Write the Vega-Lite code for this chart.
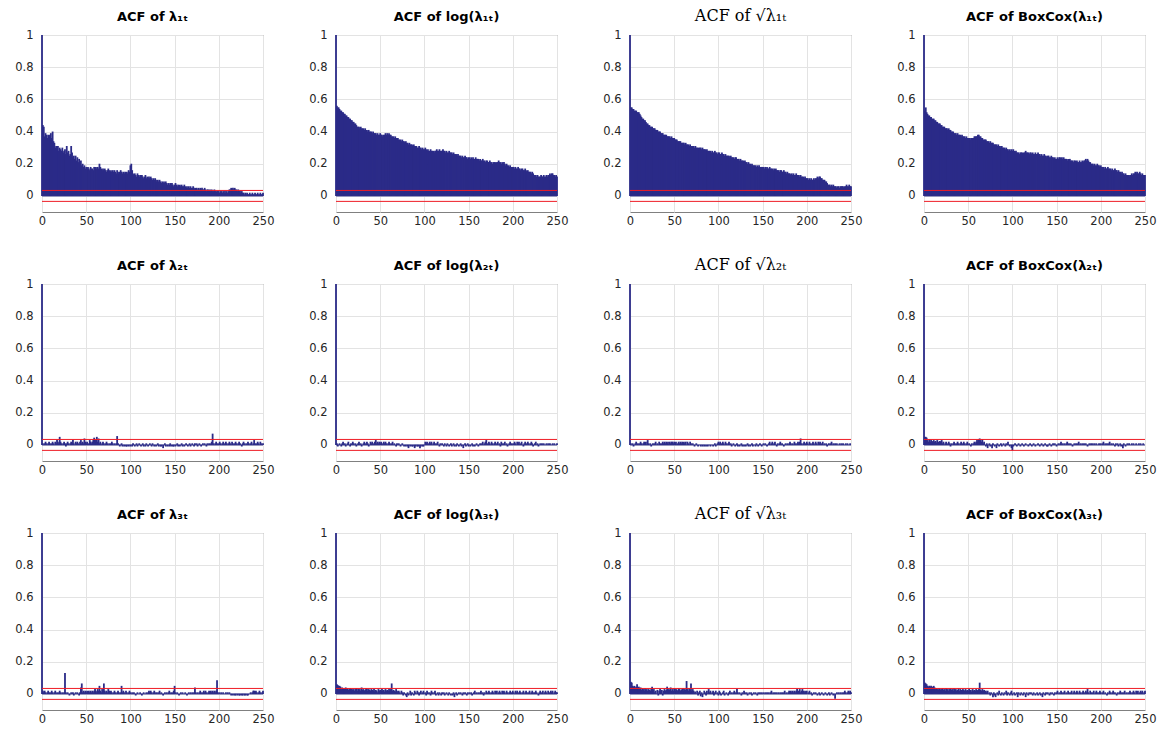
{
"$schema":"https://vega.github.io/schema/vega-lite/v6.json",
"background":"white",
"padding":{"left":14,"top":7,"right":5,"bottom":5},
"datasets":{"bounds":[{"level":0.034},{"level":-0.034}],"zero":[{"level":0}]},
"data":{"values":[
{"lag":0,"a":1,"b":1,"c":1,"d":1,"e":1,"f":1,"g":1,"h":1,"i":1,"j":1,"k":1,"l":1},
{"lag":1,"a":0.44,"b":0.56,"c":0.55,"d":0.53,"e":0.01,"f":0.01,"g":0.01,"h":0.05,"i":0.02,"j":0.06,"k":0.075,"l":0.07},
{"lag":2,"a":0.43,"b":0.55,"c":0.55,"d":0.55,"e":0,"f":-0.01,"g":0,"h":0.05,"i":0.01,"j":0.055,"k":0.07,"l":0.065},
{"lag":3,"a":0.37,"b":0.55,"c":0.54,"d":0.52,"e":0.01,"f":0,"g":0.01,"h":0.045,"i":0.02,"j":0.05,"k":0.05,"l":0.06},
{"lag":4,"a":0.39,"b":0.54,"c":0.54,"d":0.51,"e":0.02,"f":0.01,"g":-0.01,"h":0.03,"i":0.01,"j":0.05,"k":0.045,"l":0.05},
{"lag":5,"a":0.38,"b":0.53,"c":0.53,"d":0.5,"e":0.01,"f":0,"g":0,"h":0.02,"i":0,"j":0.045,"k":0.05,"l":0.045},
{"lag":6,"a":0.36,"b":0.53,"c":0.53,"d":0.5,"e":0,"f":-0.01,"g":0.01,"h":0.035,"i":0.01,"j":0.03,"k":0.04,"l":0.05},
{"lag":7,"a":0.38,"b":0.52,"c":0.53,"d":0.49,"e":0.01,"f":0.01,"g":0.02,"h":0.02,"i":0.02,"j":0.04,"k":0.045,"l":0.045},
{"lag":8,"a":0.37,"b":0.52,"c":0.52,"d":0.49,"e":0.02,"f":0.02,"g":0,"h":0.03,"i":0.01,"j":0.03,"k":0.06,"l":0.05},
{"lag":9,"a":0.38,"b":0.51,"c":0.52,"d":0.48,"e":0.01,"f":0,"g":0.01,"h":0.025,"i":0,"j":0.035,"k":0.04,"l":0.04},
{"lag":10,"a":0.39,"b":0.51,"c":0.52,"d":0.48,"e":0,"f":0.01,"g":0,"h":0.02,"i":0.01,"j":0.03,"k":0.045,"l":0.045},
{"lag":11,"a":0.36,"b":0.5,"c":0.51,"d":0.48,"e":0.01,"f":-0.01,"g":0.01,"h":0.03,"i":0.02,"j":0.04,"k":0.03,"l":0.05},
{"lag":12,"a":0.4,"b":0.5,"c":0.5,"d":0.47,"e":0.02,"f":0,"g":0.02,"h":0.02,"i":0.01,"j":0.03,"k":0.04,"l":0.04},
{"lag":13,"a":0.34,"b":0.49,"c":0.49,"d":0.47,"e":0.01,"f":0.01,"g":0.01,"h":0.025,"i":0,"j":0.035,"k":0.025,"l":0.03},
{"lag":14,"a":0.33,"b":0.49,"c":0.48,"d":0.46,"e":0,"f":0.02,"g":0,"h":0.015,"i":0.01,"j":0.025,"k":0.035,"l":0.035},
{"lag":15,"a":0.3,"b":0.48,"c":0.48,"d":0.46,"e":0.02,"f":0,"g":0.01,"h":0.03,"i":0.02,"j":0.03,"k":0.03,"l":0.03},
{"lag":16,"a":0.31,"b":0.48,"c":0.47,"d":0.45,"e":0.01,"f":-0.01,"g":0.02,"h":0.02,"i":0,"j":0.035,"k":0.02,"l":0.025},
{"lag":17,"a":0.29,"b":0.47,"c":0.47,"d":0.45,"e":0.03,"f":0.01,"g":0.01,"h":0.01,"i":0.01,"j":0.02,"k":0.035,"l":0.035},
{"lag":18,"a":0.31,"b":0.47,"c":0.46,"d":0.45,"e":0.02,"f":0,"g":0.02,"h":0.025,"i":0,"j":0.03,"k":0.025,"l":0.03},
{"lag":19,"a":0.28,"b":0.46,"c":0.45,"d":0.44,"e":0.01,"f":0.02,"g":0,"h":0.02,"i":0.01,"j":0.025,"k":0.03,"l":0.025},
{"lag":20,"a":0.3,"b":0.46,"c":0.45,"d":0.44,"e":0.05,"f":0.01,"g":0.03,"h":0.03,"i":0.02,"j":0.03,"k":0.02,"l":0.03},
{"lag":21,"a":0.29,"b":0.45,"c":0.44,"d":0.43,"e":0.02,"f":0,"g":0.01,"h":0.01,"i":0.01,"j":0.02,"k":0.03,"l":0.035},
{"lag":22,"a":0.28,"b":0.45,"c":0.44,"d":0.43,"e":0.01,"f":0.01,"g":0,"h":0.02,"i":0,"j":0.03,"k":0.025,"l":0.025},
{"lag":23,"a":0.3,"b":0.44,"c":0.43,"d":0.43,"e":0,"f":-0.01,"g":0.01,"h":0,"i":0.01,"j":0.035,"k":0.02,"l":0.03},
{"lag":24,"a":0.27,"b":0.43,"c":0.43,"d":0.42,"e":0.01,"f":0,"g":-0.01,"h":0.01,"i":0,"j":0.02,"k":0.035,"l":0.02},
{"lag":25,"a":0.28,"b":0.43,"c":0.43,"d":0.42,"e":0.02,"f":0.01,"g":0,"h":0.02,"i":0.01,"j":0.03,"k":0.045,"l":0.035},
{"lag":26,"a":0.29,"b":0.43,"c":0.42,"d":0.42,"e":0.01,"f":0.02,"g":0.01,"h":0.01,"i":0.13,"j":0.025,"k":0.02,"l":0.025},
{"lag":27,"a":0.26,"b":0.42,"c":0.42,"d":0.41,"e":-0.01,"f":0,"g":0,"h":0,"i":0.01,"j":0.03,"k":0.03,"l":0.03},
{"lag":28,"a":0.31,"b":0.43,"c":0.42,"d":0.42,"e":0.01,"f":0.01,"g":0.01,"h":0.02,"i":0,"j":0.02,"k":0.01,"l":0.02},
{"lag":29,"a":0.27,"b":0.42,"c":0.41,"d":0.41,"e":0.02,"f":-0.01,"g":0.02,"h":0.01,"i":0.01,"j":0.04,"k":0.02,"l":0.03},
{"lag":30,"a":0.28,"b":0.42,"c":0.41,"d":0.41,"e":0.01,"f":0,"g":0,"h":-0.01,"i":0,"j":0.025,"k":0,"l":0.035},
{"lag":31,"a":0.25,"b":0.42,"c":0.41,"d":0.4,"e":0,"f":0.01,"g":0.01,"h":0.01,"i":-0.01,"j":0.03,"k":0.025,"l":0.025},
{"lag":32,"a":0.26,"b":0.41,"c":0.4,"d":0.4,"e":0.01,"f":0.02,"g":0,"h":0,"i":0,"j":0.02,"k":-0.01,"l":0.03},
{"lag":33,"a":0.31,"b":0.42,"c":0.4,"d":0.4,"e":0.02,"f":0.01,"g":0.02,"h":0.01,"i":0.01,"j":0.025,"k":0.02,"l":0.02},
{"lag":34,"a":0.27,"b":0.41,"c":0.4,"d":0.39,"e":0.01,"f":0,"g":0.01,"h":0.02,"i":0,"j":0.035,"k":0.03,"l":0.035},
{"lag":35,"a":0.24,"b":0.41,"c":0.39,"d":0.39,"e":0.03,"f":0.02,"g":0,"h":0.01,"i":0.01,"j":0.03,"k":0.015,"l":0.025},
{"lag":36,"a":0.25,"b":0.4,"c":0.39,"d":0.39,"e":0.01,"f":0.01,"g":0.01,"h":0,"i":-0.01,"j":0.02,"k":0.025,"l":0.03},
{"lag":37,"a":0.23,"b":0.41,"c":0.39,"d":0.38,"e":0,"f":-0.01,"g":0.02,"h":0.01,"i":0,"j":0.03,"k":-0.01,"l":0.02},
{"lag":38,"a":0.25,"b":0.4,"c":0.38,"d":0.39,"e":0.02,"f":0,"g":0.01,"h":0.02,"i":0.01,"j":0.025,"k":0.02,"l":0.025},
{"lag":39,"a":0.22,"b":0.4,"c":0.38,"d":0.38,"e":0.01,"f":0.02,"g":0.02,"h":0.01,"i":0,"j":0.02,"k":0.03,"l":0.035},
{"lag":40,"a":0.24,"b":0.4,"c":0.38,"d":0.38,"e":0.02,"f":0.01,"g":0.01,"h":0,"i":0.01,"j":0.03,"k":0.02,"l":0.02},
{"lag":41,"a":0.21,"b":0.39,"c":0.38,"d":0.38,"e":0.01,"f":0.02,"g":0.02,"h":0.01,"i":0,"j":0.025,"k":0.025,"l":0.03},
{"lag":42,"a":0.23,"b":0.4,"c":0.37,"d":0.37,"e":0,"f":0,"g":0.01,"h":0.02,"i":-0.01,"j":0.02,"k":0.045,"l":0.025},
{"lag":43,"a":0.2,"b":0.39,"c":0.37,"d":0.38,"e":0.02,"f":0.01,"g":0.02,"h":0,"i":0.01,"j":0.03,"k":0.02,"l":0.02},
{"lag":44,"a":0.22,"b":0.39,"c":0.37,"d":0.37,"e":0.03,"f":0.02,"g":0,"h":0.01,"i":0.04,"j":0.015,"k":0.03,"l":0.03},
{"lag":45,"a":0.19,"b":0.39,"c":0.37,"d":0.37,"e":0.01,"f":0.03,"g":0.02,"h":0.02,"i":0.065,"j":0.025,"k":0.025,"l":0.025},
{"lag":46,"a":0.2,"b":0.38,"c":0.36,"d":0.37,"e":0.02,"f":0.01,"g":0.01,"h":0.01,"i":0.01,"j":0.02,"k":0.04,"l":0.02},
{"lag":47,"a":0.18,"b":0.39,"c":0.37,"d":0.36,"e":0.01,"f":0.02,"g":0.02,"h":0,"i":0.02,"j":0.01,"k":0.02,"l":0.03},
{"lag":48,"a":0.19,"b":0.38,"c":0.36,"d":0.37,"e":0.04,"f":0.01,"g":0.02,"h":0.01,"i":0.01,"j":0.03,"k":0.03,"l":0.02},
{"lag":49,"a":0.17,"b":0.38,"c":0.36,"d":0.36,"e":0.02,"f":0.02,"g":0.01,"h":0.02,"i":0.02,"j":0.02,"k":0.02,"l":0.025},
{"lag":50,"a":0.18,"b":0.39,"c":0.36,"d":0.36,"e":0.01,"f":0.01,"g":0.02,"h":0,"i":0.01,"j":0.025,"k":0.035,"l":0.02},
{"lag":51,"a":0.17,"b":0.38,"c":0.35,"d":0.36,"e":0.02,"f":0.02,"g":0.01,"h":0.01,"i":0.02,"j":0.02,"k":0.02,"l":0.03},
{"lag":52,"a":0.18,"b":0.38,"c":0.35,"d":0.36,"e":0,"f":0.01,"g":0.02,"h":0,"i":0.01,"j":0.03,"k":0.03,"l":0.02},
{"lag":53,"a":0.17,"b":0.37,"c":0.35,"d":0.35,"e":0.01,"f":0,"g":0,"h":-0.01,"i":0.02,"j":0.02,"k":0.025,"l":0.025},
{"lag":54,"a":0.16,"b":0.38,"c":0.34,"d":0.36,"e":0.03,"f":0.02,"g":0.01,"h":0.01,"i":0.01,"j":0.025,"k":0.02,"l":0.015},
{"lag":55,"a":0.18,"b":0.38,"c":0.34,"d":0.36,"e":0.02,"f":0.01,"g":0.02,"h":0,"i":0.02,"j":0.015,"k":0.035,"l":0.03},
{"lag":56,"a":0.17,"b":0.39,"c":0.34,"d":0.36,"e":0.01,"f":0.02,"g":0.01,"h":0.01,"i":0.01,"j":0.03,"k":0.03,"l":0.02},
{"lag":57,"a":0.17,"b":0.38,"c":0.34,"d":0.37,"e":0.02,"f":0.01,"g":0.02,"h":0.02,"i":0.02,"j":0.02,"k":0.02,"l":0.025},
{"lag":58,"a":0.16,"b":0.39,"c":0.33,"d":0.37,"e":0.03,"f":0,"g":0.01,"h":0.01,"i":0.01,"j":0.025,"k":0.025,"l":0.02},
{"lag":59,"a":0.18,"b":0.38,"c":0.33,"d":0.37,"e":0.045,"f":0.01,"g":0.02,"h":0.02,"i":0.02,"j":0.02,"k":0.03,"l":0.03},
{"lag":60,"a":0.17,"b":0.39,"c":0.33,"d":0.37,"e":0.02,"f":0.02,"g":0.01,"h":0.03,"i":0.03,"j":0.03,"k":0.035,"l":0.025},
{"lag":61,"a":0.18,"b":0.38,"c":0.33,"d":0.38,"e":0.03,"f":0.01,"g":0.02,"h":0.02,"i":0.02,"j":0.02,"k":0.02,"l":0.02},
{"lag":62,"a":0.17,"b":0.38,"c":0.32,"d":0.38,"e":0.05,"f":0,"g":0.01,"h":0.035,"i":0.01,"j":0.03,"k":0.03,"l":0.03},
{"lag":63,"a":0.18,"b":0.37,"c":0.33,"d":0.37,"e":0.02,"f":0.01,"g":0.02,"h":0.04,"i":0.03,"j":0.065,"k":0.025,"l":0.07},
{"lag":64,"a":0.17,"b":0.37,"c":0.32,"d":0.37,"e":0.04,"f":0.02,"g":0,"h":0.03,"i":0.02,"j":0.02,"k":0.08,"l":0.025},
{"lag":65,"a":0.2,"b":0.37,"c":0.32,"d":0.36,"e":0.01,"f":0,"g":0.02,"h":0.02,"i":0.05,"j":0.025,"k":0.03,"l":0.02},
{"lag":66,"a":0.18,"b":0.36,"c":0.32,"d":0.36,"e":0.02,"f":0.01,"g":0.01,"h":0.035,"i":0.02,"j":0.02,"k":0.02,"l":0.03},
{"lag":67,"a":0.17,"b":0.37,"c":0.31,"d":0.35,"e":0,"f":0,"g":0,"h":0.01,"i":0.01,"j":0.015,"k":0.035,"l":0.02},
{"lag":68,"a":0.16,"b":0.36,"c":0.32,"d":0.35,"e":0.01,"f":-0.01,"g":0.02,"h":0.02,"i":0.03,"j":0.03,"k":0.025,"l":0.025},
{"lag":69,"a":0.17,"b":0.36,"c":0.31,"d":0.35,"e":0.02,"f":0.01,"g":0.01,"h":0,"i":0.02,"j":0.02,"k":0.065,"l":0.015},
{"lag":70,"a":0.16,"b":0.36,"c":0.31,"d":0.35,"e":0.01,"f":0,"g":0,"h":-0.01,"i":0.065,"j":0.01,"k":0.02,"l":0.02},
{"lag":71,"a":0.17,"b":0.35,"c":0.31,"d":0.34,"e":0,"f":0.01,"g":0.01,"h":0.01,"i":0.02,"j":0.02,"k":0.03,"l":0.01},
{"lag":72,"a":0.16,"b":0.35,"c":0.31,"d":0.34,"e":0.01,"f":0,"g":0,"h":-0.02,"i":0.01,"j":0.01,"k":0.02,"l":0.02},
{"lag":73,"a":0.15,"b":0.35,"c":0.3,"d":0.34,"e":0.02,"f":-0.01,"g":-0.01,"h":0,"i":0.02,"j":0,"k":0.01,"l":0},
{"lag":74,"a":0.16,"b":0.34,"c":0.31,"d":0.33,"e":0.01,"f":0,"g":0,"h":0.01,"i":0.01,"j":0.02,"k":0.015,"l":0.01},
{"lag":75,"a":0.17,"b":0.35,"c":0.3,"d":0.34,"e":0,"f":0.01,"g":0.01,"h":-0.01,"i":0.03,"j":0.01,"k":0,"l":-0.01},
{"lag":76,"a":0.16,"b":0.34,"c":0.3,"d":0.33,"e":0.01,"f":0,"g":0,"h":0,"i":0.02,"j":-0.01,"k":0.02,"l":0.01},
{"lag":77,"a":0.15,"b":0.34,"c":0.3,"d":0.33,"e":0,"f":-0.01,"g":-0.01,"h":-0.02,"i":0.01,"j":0.01,"k":-0.01,"l":0},
{"lag":78,"a":0.16,"b":0.33,"c":0.3,"d":0.33,"e":0.01,"f":0,"g":0,"h":0.01,"i":0.02,"j":0,"k":0.01,"l":-0.02},
{"lag":79,"a":0.15,"b":0.34,"c":0.3,"d":0.32,"e":0.02,"f":-0.01,"g":0,"h":0,"i":0.01,"j":-0.01,"k":0.02,"l":0.01},
{"lag":80,"a":0.16,"b":0.33,"c":0.3,"d":0.32,"e":0.01,"f":0,"g":-0.01,"h":-0.01,"i":0,"j":-0.02,"k":-0.015,"l":-0.01},
{"lag":81,"a":0.15,"b":0.33,"c":0.29,"d":0.32,"e":0,"f":-0.01,"g":0,"h":0,"i":0.01,"j":0.01,"k":0.01,"l":-0.02},
{"lag":82,"a":0.16,"b":0.32,"c":0.3,"d":0.32,"e":0.01,"f":-0.02,"g":-0.01,"h":-0.02,"i":0.02,"j":-0.01,"k":-0.02,"l":0},
{"lag":83,"a":0.15,"b":0.33,"c":0.29,"d":0.31,"e":0,"f":0,"g":0,"h":0.01,"i":0.01,"j":0,"k":0,"l":0.01},
{"lag":84,"a":0.14,"b":0.32,"c":0.29,"d":0.32,"e":0.01,"f":-0.01,"g":-0.01,"h":0,"i":0,"j":0.02,"k":0.02,"l":-0.01},
{"lag":85,"a":0.16,"b":0.32,"c":0.29,"d":0.31,"e":0.055,"f":0,"g":0,"h":-0.01,"i":0.01,"j":-0.01,"k":0.01,"l":0.02},
{"lag":86,"a":0.15,"b":0.32,"c":0.28,"d":0.31,"e":0.01,"f":-0.01,"g":-0.01,"h":0,"i":0.02,"j":0.01,"k":-0.01,"l":0},
{"lag":87,"a":0.14,"b":0.31,"c":0.29,"d":0.3,"e":0,"f":-0.01,"g":0,"h":0.01,"i":0.01,"j":0,"k":0.02,"l":-0.01},
{"lag":88,"a":0.15,"b":0.32,"c":0.28,"d":0.31,"e":-0.01,"f":0,"g":-0.01,"h":-0.01,"i":0,"j":-0.01,"k":0,"l":0.01},
{"lag":89,"a":0.16,"b":0.31,"c":0.28,"d":0.3,"e":0,"f":-0.02,"g":0,"h":0,"i":0.01,"j":0.02,"k":0.03,"l":0},
{"lag":90,"a":0.15,"b":0.31,"c":0.28,"d":0.3,"e":0.01,"f":-0.01,"g":0,"h":0.01,"i":0.05,"j":0.01,"k":0.01,"l":-0.01},
{"lag":91,"a":0.14,"b":0.31,"c":0.28,"d":0.3,"e":-0.01,"f":0,"g":-0.01,"h":0,"i":0.01,"j":0,"k":0.02,"l":0.01},
{"lag":92,"a":0.15,"b":0.3,"c":0.27,"d":0.29,"e":0,"f":-0.01,"g":0,"h":-0.01,"i":0.02,"j":0.02,"k":0,"l":0},
{"lag":93,"a":0.14,"b":0.3,"c":0.28,"d":0.3,"e":-0.01,"f":-0.01,"g":0,"h":0.01,"i":0.01,"j":0.01,"k":0.01,"l":0.02},
{"lag":94,"a":0.15,"b":0.31,"c":0.27,"d":0.29,"e":0,"f":0,"g":-0.01,"h":0,"i":0,"j":-0.01,"k":0.02,"l":-0.01},
{"lag":95,"a":0.14,"b":0.3,"c":0.27,"d":0.29,"e":-0.01,"f":-0.02,"g":0,"h":0.02,"i":0.02,"j":0.01,"k":-0.01,"l":0.01},
{"lag":96,"a":0.15,"b":0.3,"c":0.28,"d":0.28,"e":-0.01,"f":-0.01,"g":0.01,"h":0,"i":0.01,"j":0.02,"k":0.01,"l":0},
{"lag":97,"a":0.14,"b":0.29,"c":0.27,"d":0.29,"e":0,"f":0,"g":-0.01,"h":-0.01,"i":0,"j":0,"k":0.02,"l":-0.01},
{"lag":98,"a":0.16,"b":0.3,"c":0.27,"d":0.28,"e":-0.01,"f":-0.01,"g":0,"h":0,"i":0.01,"j":0.01,"k":0,"l":0.01},
{"lag":99,"a":0.15,"b":0.29,"c":0.26,"d":0.29,"e":0,"f":-0.01,"g":0.01,"h":-0.02,"i":0.02,"j":0.02,"k":0.01,"l":0.02},
{"lag":100,"a":0.19,"b":0.29,"c":0.27,"d":0.28,"e":-0.01,"f":0,"g":0.02,"h":-0.035,"i":0.01,"j":0,"k":-0.01,"l":-0.01},
{"lag":101,"a":0.2,"b":0.3,"c":0.27,"d":0.29,"e":0,"f":0.02,"g":0.01,"h":-0.01,"i":0,"j":0.01,"k":0.02,"l":0},
{"lag":102,"a":0.16,"b":0.29,"c":0.26,"d":0.28,"e":-0.01,"f":0.01,"g":0.02,"h":0,"i":0.01,"j":-0.01,"k":0.01,"l":0.01},
{"lag":103,"a":0.14,"b":0.28,"c":0.26,"d":0.27,"e":0.01,"f":0.02,"g":0,"h":0.01,"i":0,"j":0.02,"k":-0.01,"l":-0.01},
{"lag":104,"a":0.13,"b":0.29,"c":0.27,"d":0.28,"e":0,"f":0,"g":0.01,"h":0,"i":0.01,"j":0.01,"k":0,"l":0},
{"lag":105,"a":0.14,"b":0.28,"c":0.26,"d":0.27,"e":-0.01,"f":0.01,"g":0.02,"h":-0.01,"i":0,"j":0,"k":0.01,"l":0.01},
{"lag":106,"a":0.13,"b":0.28,"c":0.26,"d":0.27,"e":0,"f":0.02,"g":0.01,"h":0,"i":-0.01,"j":0.01,"k":0.02,"l":-0.02},
{"lag":107,"a":0.12,"b":0.29,"c":0.25,"d":0.27,"e":0.01,"f":0.01,"g":0,"h":0.01,"i":0,"j":-0.01,"k":-0.01,"l":0.01},
{"lag":108,"a":0.14,"b":0.28,"c":0.26,"d":0.26,"e":-0.01,"f":0.02,"g":0.02,"h":0,"i":0.01,"j":0.02,"k":0,"l":0},
{"lag":109,"a":0.13,"b":0.28,"c":0.25,"d":0.27,"e":0,"f":0,"g":0.01,"h":-0.01,"i":0,"j":0.01,"k":0.01,"l":-0.01},
{"lag":110,"a":0.12,"b":0.28,"c":0.25,"d":0.27,"e":0.01,"f":0.01,"g":0,"h":0,"i":0,"j":0,"k":0,"l":0.01},
{"lag":111,"a":0.13,"b":0.27,"c":0.25,"d":0.27,"e":0,"f":0.02,"g":0.01,"h":0.01,"i":0.01,"j":0.01,"k":-0.01,"l":0},
{"lag":112,"a":0.12,"b":0.28,"c":0.25,"d":0.26,"e":-0.01,"f":0.01,"g":0.02,"h":0,"i":0,"j":0.02,"k":0.01,"l":-0.01},
{"lag":113,"a":0.13,"b":0.28,"c":0.24,"d":0.27,"e":0,"f":0,"g":0,"h":-0.01,"i":-0.01,"j":-0.01,"k":0.02,"l":0.01},
{"lag":114,"a":0.12,"b":0.29,"c":0.25,"d":0.27,"e":0.01,"f":0.01,"g":0.01,"h":0,"i":0,"j":0,"k":0,"l":0},
{"lag":115,"a":0.11,"b":0.28,"c":0.24,"d":0.28,"e":-0.01,"f":0.02,"g":-0.01,"h":0.01,"i":0.01,"j":0.01,"k":0.01,"l":-0.02},
{"lag":116,"a":0.12,"b":0.28,"c":0.24,"d":0.27,"e":0,"f":0,"g":0,"h":0,"i":0,"j":-0.01,"k":0,"l":0.01},
{"lag":117,"a":0.13,"b":0.29,"c":0.24,"d":0.27,"e":-0.01,"f":-0.01,"g":0.01,"h":0,"i":0,"j":0.01,"k":0.01,"l":0},
{"lag":118,"a":0.11,"b":0.28,"c":0.23,"d":0.27,"e":0.01,"f":0.01,"g":0,"h":-0.01,"i":0.01,"j":0,"k":0.02,"l":-0.01},
{"lag":119,"a":0.12,"b":0.28,"c":0.24,"d":0.26,"e":0,"f":0,"g":-0.01,"h":0,"i":0,"j":-0.01,"k":0.01,"l":0.01},
{"lag":120,"a":0.11,"b":0.28,"c":0.24,"d":0.27,"e":-0.01,"f":0.01,"g":0,"h":0.01,"i":0.01,"j":0.01,"k":0,"l":0},
{"lag":121,"a":0.12,"b":0.29,"c":0.23,"d":0.27,"e":0,"f":0,"g":0.01,"h":0,"i":0.02,"j":0,"k":0.03,"l":0.01},
{"lag":122,"a":0.11,"b":0.28,"c":0.23,"d":0.26,"e":0.01,"f":-0.01,"g":-0.01,"h":-0.01,"i":0.01,"j":0.01,"k":0.01,"l":0},
{"lag":123,"a":0.12,"b":0.28,"c":0.23,"d":0.27,"e":0,"f":0.01,"g":0,"h":0,"i":0.02,"j":-0.01,"k":0,"l":-0.01},
{"lag":124,"a":0.11,"b":0.27,"c":0.22,"d":0.26,"e":-0.01,"f":0,"g":-0.01,"h":0.01,"i":0.01,"j":0,"k":0.01,"l":0.01},
{"lag":125,"a":0.1,"b":0.28,"c":0.23,"d":0.26,"e":0.01,"f":-0.01,"g":0,"h":0,"i":0,"j":0.01,"k":0,"l":0},
{"lag":126,"a":0.11,"b":0.27,"c":0.22,"d":0.27,"e":0,"f":0.01,"g":0.01,"h":-0.01,"i":0.01,"j":0,"k":-0.01,"l":-0.01},
{"lag":127,"a":0.1,"b":0.27,"c":0.22,"d":0.26,"e":-0.01,"f":0,"g":-0.01,"h":0,"i":0.02,"j":-0.01,"k":0.01,"l":0},
{"lag":128,"a":0.11,"b":0.28,"c":0.22,"d":0.26,"e":0,"f":-0.01,"g":0,"h":0,"i":0.01,"j":0.01,"k":0,"l":0.01},
{"lag":129,"a":0.1,"b":0.27,"c":0.21,"d":0.27,"e":-0.01,"f":0,"g":-0.01,"h":0.01,"i":0,"j":0,"k":0.02,"l":-0.01},
{"lag":130,"a":0.09,"b":0.27,"c":0.22,"d":0.26,"e":0,"f":0.01,"g":0,"h":0,"i":0.01,"j":-0.01,"k":0.01,"l":0},
{"lag":131,"a":0.1,"b":0.27,"c":0.21,"d":0.26,"e":0.01,"f":-0.01,"g":-0.01,"h":-0.01,"i":0,"j":0,"k":0,"l":0.01},
{"lag":132,"a":0.09,"b":0.26,"c":0.21,"d":0.25,"e":-0.01,"f":0,"g":0,"h":0,"i":0.01,"j":-0.01,"k":0.01,"l":-0.01},
{"lag":133,"a":0.1,"b":0.27,"c":0.2,"d":0.26,"e":0,"f":0.01,"g":0.01,"h":0.01,"i":0.02,"j":0.01,"k":-0.01,"l":0},
{"lag":134,"a":0.09,"b":0.26,"c":0.21,"d":0.25,"e":-0.01,"f":-0.01,"g":-0.01,"h":0,"i":0,"j":-0.02,"k":0,"l":-0.02},
{"lag":135,"a":0.08,"b":0.26,"c":0.2,"d":0.25,"e":-0.01,"f":0,"g":0,"h":-0.01,"i":0.01,"j":0,"k":0.01,"l":0.01},
{"lag":136,"a":0.09,"b":0.26,"c":0.2,"d":0.26,"e":0,"f":-0.01,"g":-0.01,"h":0,"i":0,"j":0.01,"k":0,"l":0},
{"lag":137,"a":0.08,"b":0.25,"c":0.19,"d":0.25,"e":-0.02,"f":0.01,"g":0,"h":0.01,"i":-0.01,"j":-0.01,"k":0.01,"l":-0.01},
{"lag":138,"a":0.09,"b":0.26,"c":0.2,"d":0.25,"e":0,"f":0,"g":0.01,"h":0,"i":0,"j":0,"k":-0.01,"l":0.01},
{"lag":139,"a":0.08,"b":0.25,"c":0.19,"d":0.24,"e":0.01,"f":-0.01,"g":-0.01,"h":-0.01,"i":0.01,"j":0.01,"k":0,"l":0},
{"lag":140,"a":0.09,"b":0.25,"c":0.19,"d":0.25,"e":-0.01,"f":0,"g":0,"h":-0.01,"i":0,"j":0,"k":0.01,"l":0.01},
{"lag":141,"a":0.08,"b":0.25,"c":0.19,"d":0.25,"e":0,"f":0.01,"g":0,"h":0,"i":0.01,"j":0.01,"k":0,"l":0},
{"lag":142,"a":0.07,"b":0.24,"c":0.19,"d":0.24,"e":-0.01,"f":-0.01,"g":-0.01,"h":0.01,"i":0,"j":0,"k":0.01,"l":-0.01},
{"lag":143,"a":0.08,"b":0.25,"c":0.18,"d":0.24,"e":0,"f":0,"g":0.01,"h":0,"i":0.01,"j":-0.01,"k":0,"l":0.01},
{"lag":144,"a":0.07,"b":0.24,"c":0.19,"d":0.25,"e":-0.01,"f":-0.02,"g":0,"h":-0.01,"i":0.02,"j":0.01,"k":-0.01,"l":0},
{"lag":145,"a":0.08,"b":0.24,"c":0.18,"d":0.24,"e":0.01,"f":0,"g":-0.01,"h":0,"i":0,"j":0,"k":0.01,"l":0.01},
{"lag":146,"a":0.07,"b":0.25,"c":0.19,"d":0.24,"e":-0.01,"f":0.01,"g":0,"h":0.01,"i":0.01,"j":0.01,"k":0,"l":0},
{"lag":147,"a":0.08,"b":0.24,"c":0.18,"d":0.23,"e":0,"f":-0.01,"g":0.01,"h":0,"i":0,"j":0,"k":0.01,"l":-0.01},
{"lag":148,"a":0.07,"b":0.24,"c":0.18,"d":0.24,"e":-0.01,"f":0,"g":0,"h":0.01,"i":0.01,"j":-0.01,"k":0,"l":0.01},
{"lag":149,"a":0.06,"b":0.23,"c":0.18,"d":0.23,"e":-0.01,"f":0.01,"g":-0.01,"h":0,"i":0.02,"j":0.01,"k":0.01,"l":0},
{"lag":150,"a":0.07,"b":0.24,"c":0.18,"d":0.23,"e":0,"f":-0.01,"g":0,"h":-0.01,"i":0.05,"j":0,"k":0,"l":0.01},
{"lag":151,"a":0.08,"b":0.24,"c":0.18,"d":0.24,"e":-0.01,"f":0,"g":0.01,"h":0,"i":0.01,"j":0.01,"k":0.01,"l":0.02},
{"lag":152,"a":0.07,"b":0.23,"c":0.17,"d":0.23,"e":0,"f":-0.01,"g":0,"h":0.01,"i":0,"j":0,"k":0,"l":0},
{"lag":153,"a":0.06,"b":0.24,"c":0.18,"d":0.24,"e":0.01,"f":0,"g":0.01,"h":0,"i":0.01,"j":0.01,"k":0.01,"l":0.01},
{"lag":154,"a":0.07,"b":0.23,"c":0.17,"d":0.24,"e":-0.01,"f":0.01,"g":0,"h":0.01,"i":0,"j":-0.01,"k":0,"l":0},
{"lag":155,"a":0.06,"b":0.24,"c":0.18,"d":0.23,"e":0,"f":-0.01,"g":-0.01,"h":0.02,"i":-0.01,"j":0,"k":0.01,"l":0.02},
{"lag":156,"a":0.07,"b":0.23,"c":0.17,"d":0.24,"e":-0.01,"f":0,"g":0,"h":0,"i":0,"j":0.01,"k":0,"l":0.01},
{"lag":157,"a":0.06,"b":0.23,"c":0.17,"d":0.23,"e":0,"f":-0.01,"g":0.01,"h":0.01,"i":0.01,"j":0.02,"k":0.01,"l":0},
{"lag":158,"a":0.07,"b":0.24,"c":0.18,"d":0.24,"e":0.01,"f":0,"g":0.02,"h":0,"i":0,"j":0,"k":0,"l":0.01},
{"lag":159,"a":0.06,"b":0.23,"c":0.17,"d":0.23,"e":-0.01,"f":0.01,"g":0,"h":0.01,"i":0.01,"j":0.01,"k":0.01,"l":0.02},
{"lag":160,"a":0.06,"b":0.23,"c":0.17,"d":0.23,"e":0,"f":0,"g":0.01,"h":0,"i":0,"j":0,"k":0.02,"l":0},
{"lag":161,"a":0.07,"b":0.23,"c":0.17,"d":0.23,"e":-0.01,"f":-0.01,"g":0.02,"h":0.01,"i":0,"j":0.01,"k":0,"l":0.01},
{"lag":162,"a":0.06,"b":0.22,"c":0.16,"d":0.22,"e":0,"f":0,"g":0,"h":0.02,"i":0.01,"j":0,"k":0.01,"l":0},
{"lag":163,"a":0.05,"b":0.23,"c":0.17,"d":0.23,"e":0.01,"f":0.01,"g":0.01,"h":0,"i":0,"j":0.01,"k":0,"l":0.02},
{"lag":164,"a":0.06,"b":0.22,"c":0.16,"d":0.22,"e":0,"f":0,"g":0.02,"h":0.01,"i":-0.01,"j":0.02,"k":0.01,"l":0.01},
{"lag":165,"a":0.05,"b":0.22,"c":0.17,"d":0.23,"e":-0.01,"f":0.01,"g":0,"h":0,"i":0,"j":0,"k":0,"l":0},
{"lag":166,"a":0.06,"b":0.23,"c":0.16,"d":0.22,"e":0,"f":0.02,"g":-0.01,"h":0.01,"i":0.01,"j":0.01,"k":0.01,"l":0.01},
{"lag":167,"a":0.05,"b":0.22,"c":0.16,"d":0.22,"e":0.01,"f":0,"g":0.01,"h":0,"i":0,"j":-0.01,"k":0,"l":0.02},
{"lag":168,"a":0.06,"b":0.22,"c":0.16,"d":0.22,"e":-0.01,"f":0.01,"g":0,"h":-0.01,"i":0.01,"j":0.01,"k":0.01,"l":0},
{"lag":169,"a":0.05,"b":0.21,"c":0.15,"d":0.21,"e":0,"f":0.02,"g":0.01,"h":0,"i":0,"j":0,"k":0,"l":0.01},
{"lag":170,"a":0.05,"b":0.22,"c":0.16,"d":0.22,"e":0.01,"f":0.03,"g":0.02,"h":0.01,"i":0.01,"j":0.02,"k":0.01,"l":0.02},
{"lag":171,"a":0.06,"b":0.22,"c":0.16,"d":0.22,"e":0,"f":0.01,"g":0,"h":0,"i":0,"j":0.01,"k":0,"l":0},
{"lag":172,"a":0.05,"b":0.21,"c":0.15,"d":0.21,"e":-0.01,"f":0,"g":0.01,"h":0.01,"i":0.01,"j":0,"k":0.01,"l":0.01},
{"lag":173,"a":0.04,"b":0.21,"c":0.15,"d":0.22,"e":0.01,"f":0.02,"g":0,"h":0,"i":0.04,"j":0.02,"k":0,"l":0.02},
{"lag":174,"a":0.05,"b":0.22,"c":0.16,"d":0.21,"e":0,"f":0.01,"g":-0.01,"h":0.01,"i":0.01,"j":0.01,"k":0.01,"l":0.01},
{"lag":175,"a":0.05,"b":0.21,"c":0.15,"d":0.21,"e":0.01,"f":0,"g":0,"h":0.02,"i":0,"j":0,"k":0.02,"l":0},
{"lag":176,"a":0.04,"b":0.21,"c":0.15,"d":0.22,"e":-0.01,"f":0.02,"g":0.01,"h":0,"i":0.01,"j":0.01,"k":0,"l":0.02},
{"lag":177,"a":0.05,"b":0.2,"c":0.14,"d":0.21,"e":0,"f":0.01,"g":0,"h":0.01,"i":0,"j":0.02,"k":0.01,"l":0.01},
{"lag":178,"a":0.04,"b":0.21,"c":0.15,"d":0.21,"e":0.01,"f":0,"g":0.01,"h":0,"i":0.01,"j":0.01,"k":0,"l":0},
{"lag":179,"a":0.05,"b":0.21,"c":0.14,"d":0.22,"e":0,"f":0.01,"g":0,"h":0.01,"i":0.02,"j":0,"k":0.01,"l":0.01},
{"lag":180,"a":0.04,"b":0.21,"c":0.14,"d":0.21,"e":-0.01,"f":0.02,"g":0.01,"h":0,"i":0.01,"j":0.02,"k":0.02,"l":0.02},
{"lag":181,"a":0.05,"b":0.2,"c":0.14,"d":0.22,"e":0,"f":0,"g":0.02,"h":0.01,"i":0,"j":0.01,"k":0.01,"l":0.01},
{"lag":182,"a":0.04,"b":0.21,"c":0.13,"d":0.22,"e":0.01,"f":0.01,"g":0.01,"h":0,"i":0.01,"j":0.02,"k":0.02,"l":0},
{"lag":183,"a":0.04,"b":0.21,"c":0.14,"d":0.23,"e":0,"f":0.02,"g":0,"h":0.01,"i":0.02,"j":0,"k":0.01,"l":0.02},
{"lag":184,"a":0.05,"b":0.22,"c":0.13,"d":0.22,"e":0.01,"f":0,"g":0.01,"h":0,"i":0.01,"j":0.01,"k":0.02,"l":0.01},
{"lag":185,"a":0.04,"b":0.21,"c":0.14,"d":0.23,"e":0,"f":0.01,"g":0,"h":-0.01,"i":0.02,"j":0.02,"k":0.01,"l":0.03},
{"lag":186,"a":0.03,"b":0.21,"c":0.13,"d":0.22,"e":-0.01,"f":-0.01,"g":0.02,"h":0,"i":0.01,"j":0.01,"k":0.02,"l":0.01},
{"lag":187,"a":0.04,"b":0.2,"c":0.13,"d":0.21,"e":0.01,"f":0.02,"g":0.01,"h":0.01,"i":0,"j":0,"k":0.01,"l":0},
{"lag":188,"a":0.04,"b":0.21,"c":0.14,"d":0.21,"e":0,"f":0.01,"g":0,"h":0,"i":0.01,"j":0.02,"k":0.02,"l":0.02},
{"lag":189,"a":0.03,"b":0.2,"c":0.13,"d":0.2,"e":0.01,"f":0,"g":0.01,"h":0.01,"i":0.02,"j":0.01,"k":0.03,"l":0.01},
{"lag":190,"a":0.04,"b":0.21,"c":0.13,"d":0.2,"e":0,"f":0.01,"g":0.02,"h":0,"i":0.01,"j":0.02,"k":0.01,"l":0},
{"lag":191,"a":0.03,"b":0.2,"c":0.13,"d":0.2,"e":0.01,"f":0.02,"g":0.01,"h":0.01,"i":0.02,"j":0.01,"k":0.02,"l":0.01},
{"lag":192,"a":0.04,"b":0.19,"c":0.12,"d":0.19,"e":0.02,"f":0,"g":0.02,"h":0,"i":0.01,"j":0,"k":0.03,"l":0.02},
{"lag":193,"a":0.03,"b":0.2,"c":0.13,"d":0.2,"e":0.07,"f":0.01,"g":0.04,"h":0.01,"i":0.02,"j":0.02,"k":0.01,"l":0},
{"lag":194,"a":0.03,"b":0.19,"c":0.12,"d":0.19,"e":0.01,"f":-0.01,"g":0.01,"h":0,"i":0.01,"j":0.01,"k":0.02,"l":0.01},
{"lag":195,"a":0.04,"b":0.19,"c":0.12,"d":0.19,"e":0,"f":0,"g":0,"h":0.01,"i":0.02,"j":0,"k":0.03,"l":0.02},
{"lag":196,"a":0.03,"b":0.18,"c":0.12,"d":0.2,"e":0.01,"f":0.01,"g":0.01,"h":0,"i":0.01,"j":0.01,"k":0.02,"l":0.01},
{"lag":197,"a":0.03,"b":0.19,"c":0.11,"d":0.19,"e":0.02,"f":0.02,"g":0.02,"h":0,"i":0.02,"j":0.02,"k":0.01,"l":0},
{"lag":198,"a":0.02,"b":0.18,"c":0.12,"d":0.19,"e":0.01,"f":0,"g":0,"h":0.01,"i":0.085,"j":0,"k":0.02,"l":0.01},
{"lag":199,"a":0.03,"b":0.18,"c":0.11,"d":0.18,"e":0,"f":0.01,"g":0.01,"h":0,"i":0.01,"j":0.01,"k":0.01,"l":0.02},
{"lag":200,"a":0.03,"b":0.18,"c":0.11,"d":0.19,"e":0.01,"f":0,"g":0.02,"h":0.01,"i":0,"j":0.02,"k":0.02,"l":0.01},
{"lag":201,"a":0.02,"b":0.18,"c":0.11,"d":0.18,"e":0.02,"f":0.01,"g":0.01,"h":0,"i":0.01,"j":0.01,"k":0,"l":0},
{"lag":202,"a":0.03,"b":0.17,"c":0.1,"d":0.18,"e":0.01,"f":0.02,"g":0,"h":0.01,"i":0,"j":0,"k":0.01,"l":0.01},
{"lag":203,"a":0.03,"b":0.18,"c":0.11,"d":0.18,"e":0,"f":0.01,"g":0.02,"h":0.02,"i":0.01,"j":0.02,"k":0.02,"l":0.02},
{"lag":204,"a":0.02,"b":0.17,"c":0.1,"d":0.17,"e":0.01,"f":0,"g":0.01,"h":0,"i":0,"j":0.01,"k":0,"l":0},
{"lag":205,"a":0.03,"b":0.17,"c":0.11,"d":0.18,"e":0.02,"f":0.02,"g":0,"h":0.01,"i":0.01,"j":0.02,"k":0.01,"l":0.01},
{"lag":206,"a":0.02,"b":0.18,"c":0.1,"d":0.17,"e":0,"f":0.01,"g":0.01,"h":0,"i":0,"j":0,"k":-0.01,"l":0},
{"lag":207,"a":0.03,"b":0.17,"c":0.1,"d":0.17,"e":0.01,"f":0.02,"g":0.02,"h":0.01,"i":0,"j":0.01,"k":0,"l":-0.01},
{"lag":208,"a":0.02,"b":0.17,"c":0.11,"d":0.18,"e":0.02,"f":0,"g":0.01,"h":0,"i":0.01,"j":0.02,"k":0.01,"l":0.01},
{"lag":209,"a":0.03,"b":0.16,"c":0.1,"d":0.17,"e":0.01,"f":0.01,"g":0,"h":0.01,"i":0,"j":0.01,"k":0,"l":0},
{"lag":210,"a":0.02,"b":0.17,"c":0.11,"d":0.17,"e":0,"f":0.02,"g":0.02,"h":0.02,"i":0.01,"j":0,"k":0.01,"l":0.02},
{"lag":211,"a":0.03,"b":0.17,"c":0.11,"d":0.17,"e":0.01,"f":0,"g":0.01,"h":0,"i":0,"j":0.01,"k":0,"l":0.01},
{"lag":212,"a":0.04,"b":0.16,"c":0.12,"d":0.16,"e":0.02,"f":-0.01,"g":0,"h":0.01,"i":0.01,"j":0.02,"k":-0.01,"l":0},
{"lag":213,"a":0.04,"b":0.16,"c":0.11,"d":0.17,"e":0.01,"f":0.01,"g":0.02,"h":0,"i":0,"j":0,"k":0,"l":0.01},
{"lag":214,"a":0.05,"b":0.17,"c":0.12,"d":0.16,"e":0,"f":0.02,"g":0.01,"h":0.01,"i":-0.01,"j":0.01,"k":0.01,"l":0.02},
{"lag":215,"a":0.04,"b":0.16,"c":0.12,"d":0.16,"e":0.02,"f":0.01,"g":0.02,"h":0,"i":0,"j":0.02,"k":-0.01,"l":0},
{"lag":216,"a":0.05,"b":0.15,"c":0.11,"d":0.17,"e":0.01,"f":0,"g":0,"h":-0.01,"i":-0.01,"j":0.01,"k":0,"l":0.01},
{"lag":217,"a":0.04,"b":0.16,"c":0.11,"d":0.16,"e":0,"f":0.02,"g":0.01,"h":0.01,"i":0,"j":0,"k":0.01,"l":0},
{"lag":218,"a":0.05,"b":0.15,"c":0.1,"d":0.16,"e":0.01,"f":0.01,"g":0.02,"h":0,"i":-0.01,"j":0.01,"k":0,"l":-0.01},
{"lag":219,"a":0.04,"b":0.15,"c":0.1,"d":0.15,"e":0.02,"f":0,"g":0,"h":0.01,"i":-0.01,"j":0.02,"k":-0.01,"l":0.01},
{"lag":220,"a":0.04,"b":0.15,"c":0.1,"d":0.16,"e":0.01,"f":0.01,"g":0.01,"h":-0.01,"i":0,"j":0,"k":0,"l":0},
{"lag":221,"a":0.03,"b":0.14,"c":0.09,"d":0.15,"e":0,"f":0.02,"g":0,"h":0,"i":-0.01,"j":0.01,"k":0.01,"l":0.01},
{"lag":222,"a":0.04,"b":0.15,"c":0.09,"d":0.15,"e":0.01,"f":0.01,"g":0.01,"h":0.01,"i":0,"j":0.02,"k":0,"l":0.02},
{"lag":223,"a":0.03,"b":0.14,"c":0.08,"d":0.14,"e":0.02,"f":-0.01,"g":-0.01,"h":-0.01,"i":-0.01,"j":0.01,"k":-0.01,"l":0},
{"lag":224,"a":0.03,"b":0.13,"c":0.07,"d":0.15,"e":0.01,"f":0,"g":0,"h":0,"i":-0.01,"j":0,"k":0,"l":0.01},
{"lag":225,"a":0.02,"b":0.13,"c":0.07,"d":0.14,"e":0,"f":0.01,"g":0.01,"h":-0.02,"i":0,"j":0.01,"k":0.01,"l":0},
{"lag":226,"a":0.03,"b":0.13,"c":0.07,"d":0.14,"e":-0.01,"f":0.02,"g":0,"h":0.01,"i":-0.01,"j":0.02,"k":-0.01,"l":0.01},
{"lag":227,"a":0.02,"b":0.12,"c":0.06,"d":0.13,"e":0.01,"f":0,"g":0.01,"h":0,"i":-0.01,"j":0.01,"k":0,"l":0.02},
{"lag":228,"a":0.02,"b":0.13,"c":0.07,"d":0.14,"e":0.02,"f":0.01,"g":0.02,"h":-0.01,"i":0,"j":0,"k":0.01,"l":0},
{"lag":229,"a":0.01,"b":0.12,"c":0.06,"d":0.13,"e":0.01,"f":-0.01,"g":0,"h":0,"i":-0.01,"j":-0.01,"k":0,"l":0.01},
{"lag":230,"a":0.02,"b":0.12,"c":0.07,"d":0.13,"e":0,"f":0,"g":0.01,"h":0.01,"i":-0.01,"j":0.01,"k":-0.01,"l":0},
{"lag":231,"a":0.01,"b":0.12,"c":0.06,"d":0.13,"e":0.01,"f":0.01,"g":0,"h":0,"i":0,"j":0.02,"k":0,"l":0.01},
{"lag":232,"a":0.02,"b":0.13,"c":0.06,"d":0.12,"e":0,"f":0,"g":0.01,"h":0.01,"i":-0.01,"j":0,"k":-0.03,"l":0},
{"lag":233,"a":0.01,"b":0.12,"c":0.06,"d":0.13,"e":0.02,"f":0.01,"g":0,"h":0,"i":-0.01,"j":0.01,"k":0,"l":0.02},
{"lag":234,"a":0.01,"b":0.12,"c":0.05,"d":0.13,"e":0.01,"f":0,"g":0.01,"h":0,"i":0,"j":0.02,"k":0.01,"l":0.01},
{"lag":235,"a":0.02,"b":0.13,"c":0.06,"d":0.14,"e":0,"f":0.01,"g":0,"h":0.01,"i":0,"j":0,"k":0,"l":0},
{"lag":236,"a":0.01,"b":0.12,"c":0.06,"d":0.13,"e":0.01,"f":0,"g":0,"h":0,"i":0.01,"j":0.01,"k":0.01,"l":0.01},
{"lag":237,"a":0.01,"b":0.12,"c":0.05,"d":0.14,"e":0.02,"f":0,"g":0.01,"h":0.01,"i":0,"j":0.02,"k":0,"l":0.02},
{"lag":238,"a":0.02,"b":0.13,"c":0.06,"d":0.14,"e":0,"f":0.01,"g":0,"h":0,"i":0.01,"j":0.01,"k":0.01,"l":0.01},
{"lag":239,"a":0.01,"b":0.12,"c":0.06,"d":0.15,"e":0.01,"f":0,"g":0.01,"h":0,"i":0.02,"j":0,"k":0,"l":0},
{"lag":240,"a":0.01,"b":0.13,"c":0.06,"d":0.14,"e":0.03,"f":0.01,"g":0,"h":0.01,"i":0.02,"j":0.02,"k":0.01,"l":0.02},
{"lag":241,"a":0.02,"b":0.13,"c":0.06,"d":0.15,"e":0.01,"f":0,"g":0.01,"h":0,"i":0.01,"j":0.01,"k":0,"l":0.01},
{"lag":242,"a":0.01,"b":0.14,"c":0.05,"d":0.14,"e":0,"f":0.01,"g":0,"h":0,"i":0.02,"j":0,"k":0.01,"l":0.02},
{"lag":243,"a":0.01,"b":0.13,"c":0.06,"d":0.14,"e":0.01,"f":0,"g":0,"h":0.01,"i":0.01,"j":0.02,"k":0.02,"l":0},
{"lag":244,"a":0.02,"b":0.14,"c":0.06,"d":0.15,"e":0.02,"f":0,"g":0.01,"h":0,"i":0,"j":0.01,"k":0.01,"l":0.01},
{"lag":245,"a":0.01,"b":0.14,"c":0.07,"d":0.14,"e":0.01,"f":0.01,"g":0,"h":0.01,"i":0.01,"j":0.02,"k":0,"l":0.02},
{"lag":246,"a":0.01,"b":0.13,"c":0.06,"d":0.13,"e":0,"f":0,"g":0.01,"h":0,"i":0.02,"j":0,"k":0.01,"l":0.01},
{"lag":247,"a":0.02,"b":0.13,"c":0.06,"d":0.14,"e":0.02,"f":0.01,"g":0,"h":0,"i":0.01,"j":0.01,"k":0.02,"l":0.02},
{"lag":248,"a":0.01,"b":0.12,"c":0.07,"d":0.13,"e":0.01,"f":0,"g":0,"h":0.01,"i":0,"j":0.02,"k":0.01,"l":0},
{"lag":249,"a":0.01,"b":0.13,"c":0.06,"d":0.13,"e":0,"f":0,"g":0.01,"h":0,"i":0.01,"j":0.01,"k":0.02,"l":0.01},
{"lag":250,"a":0.02,"b":0.12,"c":0.06,"d":0.13,"e":0.01,"f":0.01,"g":0,"h":0,"i":0.02,"j":0.01,"k":0.01,"l":0.02}
]},
"columns":4,
"bounds":"flush",
"spacing":{"row":72,"column":73},
"concat":[
{"title":{"text":"ACF of λ₁ₜ"},"width":221,"height":177,"layer":[
{"mark":{"type":"bar","size":1.8,"color":"#2b2b88"},"encoding":{"x":{"field":"lag","type":"quantitative","title":null,"scale":{"domain":[0,250],"padding":0},"axis":{"values":[0,50,100,150,200,250],"labelOverlap":false}},"y":{"field":"a","type":"quantitative","title":null,"scale":{"domain":[-0.1,1]},"axis":{"values":[0,0.2,0.4,0.6,0.8,1],"format":"~g","labelOverlap":false}}}},
{"data":{"name":"zero"},"mark":{"type":"rule","color":"#2b2b88"},"encoding":{"y":{"field":"level","type":"quantitative","title":null,"axis":{"values":[0,0.2,0.4,0.6,0.8,1],"format":"~g","labelOverlap":false}}}},
{"data":{"name":"bounds"},"mark":{"type":"rule","color":"#ee1c25"},"encoding":{"y":{"field":"level","type":"quantitative","title":null,"axis":{"values":[0,0.2,0.4,0.6,0.8,1],"format":"~g","labelOverlap":false}}}}]},
{"title":{"text":"ACF of log(λ₁ₜ)"},"width":221,"height":177,"layer":[
{"mark":{"type":"bar","size":1.8,"color":"#2b2b88"},"encoding":{"x":{"field":"lag","type":"quantitative","title":null,"scale":{"domain":[0,250],"padding":0},"axis":{"values":[0,50,100,150,200,250],"labelOverlap":false}},"y":{"field":"b","type":"quantitative","title":null,"scale":{"domain":[-0.1,1]},"axis":{"values":[0,0.2,0.4,0.6,0.8,1],"format":"~g","labelOverlap":false}}}},
{"data":{"name":"zero"},"mark":{"type":"rule","color":"#2b2b88"},"encoding":{"y":{"field":"level","type":"quantitative","title":null,"axis":{"values":[0,0.2,0.4,0.6,0.8,1],"format":"~g","labelOverlap":false}}}},
{"data":{"name":"bounds"},"mark":{"type":"rule","color":"#ee1c25"},"encoding":{"y":{"field":"level","type":"quantitative","title":null,"axis":{"values":[0,0.2,0.4,0.6,0.8,1],"format":"~g","labelOverlap":false}}}}]},
{"title":{"text":"ACF of √λ₁ₜ","font":"DejaVu Serif","fontWeight":"normal","fontSize":16},"width":221,"height":177,"layer":[
{"mark":{"type":"bar","size":1.8,"color":"#2b2b88"},"encoding":{"x":{"field":"lag","type":"quantitative","title":null,"scale":{"domain":[0,250],"padding":0},"axis":{"values":[0,50,100,150,200,250],"labelOverlap":false}},"y":{"field":"c","type":"quantitative","title":null,"scale":{"domain":[-0.1,1]},"axis":{"values":[0,0.2,0.4,0.6,0.8,1],"format":"~g","labelOverlap":false}}}},
{"data":{"name":"zero"},"mark":{"type":"rule","color":"#2b2b88"},"encoding":{"y":{"field":"level","type":"quantitative","title":null,"axis":{"values":[0,0.2,0.4,0.6,0.8,1],"format":"~g","labelOverlap":false}}}},
{"data":{"name":"bounds"},"mark":{"type":"rule","color":"#ee1c25"},"encoding":{"y":{"field":"level","type":"quantitative","title":null,"axis":{"values":[0,0.2,0.4,0.6,0.8,1],"format":"~g","labelOverlap":false}}}}]},
{"title":{"text":"ACF of BoxCox(λ₁ₜ)"},"width":221,"height":177,"layer":[
{"mark":{"type":"bar","size":1.8,"color":"#2b2b88"},"encoding":{"x":{"field":"lag","type":"quantitative","title":null,"scale":{"domain":[0,250],"padding":0},"axis":{"values":[0,50,100,150,200,250],"labelOverlap":false}},"y":{"field":"d","type":"quantitative","title":null,"scale":{"domain":[-0.1,1]},"axis":{"values":[0,0.2,0.4,0.6,0.8,1],"format":"~g","labelOverlap":false}}}},
{"data":{"name":"zero"},"mark":{"type":"rule","color":"#2b2b88"},"encoding":{"y":{"field":"level","type":"quantitative","title":null,"axis":{"values":[0,0.2,0.4,0.6,0.8,1],"format":"~g","labelOverlap":false}}}},
{"data":{"name":"bounds"},"mark":{"type":"rule","color":"#ee1c25"},"encoding":{"y":{"field":"level","type":"quantitative","title":null,"axis":{"values":[0,0.2,0.4,0.6,0.8,1],"format":"~g","labelOverlap":false}}}}]},
{"title":{"text":"ACF of λ₂ₜ"},"width":221,"height":177,"layer":[
{"mark":{"type":"bar","size":1.8,"color":"#2b2b88"},"encoding":{"x":{"field":"lag","type":"quantitative","title":null,"scale":{"domain":[0,250],"padding":0},"axis":{"values":[0,50,100,150,200,250],"labelOverlap":false}},"y":{"field":"e","type":"quantitative","title":null,"scale":{"domain":[-0.1,1]},"axis":{"values":[0,0.2,0.4,0.6,0.8,1],"format":"~g","labelOverlap":false}}}},
{"data":{"name":"zero"},"mark":{"type":"rule","color":"#2b2b88"},"encoding":{"y":{"field":"level","type":"quantitative","title":null,"axis":{"values":[0,0.2,0.4,0.6,0.8,1],"format":"~g","labelOverlap":false}}}},
{"data":{"name":"bounds"},"mark":{"type":"rule","color":"#ee1c25"},"encoding":{"y":{"field":"level","type":"quantitative","title":null,"axis":{"values":[0,0.2,0.4,0.6,0.8,1],"format":"~g","labelOverlap":false}}}}]},
{"title":{"text":"ACF of log(λ₂ₜ)"},"width":221,"height":177,"layer":[
{"mark":{"type":"bar","size":1.8,"color":"#2b2b88"},"encoding":{"x":{"field":"lag","type":"quantitative","title":null,"scale":{"domain":[0,250],"padding":0},"axis":{"values":[0,50,100,150,200,250],"labelOverlap":false}},"y":{"field":"f","type":"quantitative","title":null,"scale":{"domain":[-0.1,1]},"axis":{"values":[0,0.2,0.4,0.6,0.8,1],"format":"~g","labelOverlap":false}}}},
{"data":{"name":"zero"},"mark":{"type":"rule","color":"#2b2b88"},"encoding":{"y":{"field":"level","type":"quantitative","title":null,"axis":{"values":[0,0.2,0.4,0.6,0.8,1],"format":"~g","labelOverlap":false}}}},
{"data":{"name":"bounds"},"mark":{"type":"rule","color":"#ee1c25"},"encoding":{"y":{"field":"level","type":"quantitative","title":null,"axis":{"values":[0,0.2,0.4,0.6,0.8,1],"format":"~g","labelOverlap":false}}}}]},
{"title":{"text":"ACF of √λ₂ₜ","font":"DejaVu Serif","fontWeight":"normal","fontSize":16},"width":221,"height":177,"layer":[
{"mark":{"type":"bar","size":1.8,"color":"#2b2b88"},"encoding":{"x":{"field":"lag","type":"quantitative","title":null,"scale":{"domain":[0,250],"padding":0},"axis":{"values":[0,50,100,150,200,250],"labelOverlap":false}},"y":{"field":"g","type":"quantitative","title":null,"scale":{"domain":[-0.1,1]},"axis":{"values":[0,0.2,0.4,0.6,0.8,1],"format":"~g","labelOverlap":false}}}},
{"data":{"name":"zero"},"mark":{"type":"rule","color":"#2b2b88"},"encoding":{"y":{"field":"level","type":"quantitative","title":null,"axis":{"values":[0,0.2,0.4,0.6,0.8,1],"format":"~g","labelOverlap":false}}}},
{"data":{"name":"bounds"},"mark":{"type":"rule","color":"#ee1c25"},"encoding":{"y":{"field":"level","type":"quantitative","title":null,"axis":{"values":[0,0.2,0.4,0.6,0.8,1],"format":"~g","labelOverlap":false}}}}]},
{"title":{"text":"ACF of BoxCox(λ₂ₜ)"},"width":221,"height":177,"layer":[
{"mark":{"type":"bar","size":1.8,"color":"#2b2b88"},"encoding":{"x":{"field":"lag","type":"quantitative","title":null,"scale":{"domain":[0,250],"padding":0},"axis":{"values":[0,50,100,150,200,250],"labelOverlap":false}},"y":{"field":"h","type":"quantitative","title":null,"scale":{"domain":[-0.1,1]},"axis":{"values":[0,0.2,0.4,0.6,0.8,1],"format":"~g","labelOverlap":false}}}},
{"data":{"name":"zero"},"mark":{"type":"rule","color":"#2b2b88"},"encoding":{"y":{"field":"level","type":"quantitative","title":null,"axis":{"values":[0,0.2,0.4,0.6,0.8,1],"format":"~g","labelOverlap":false}}}},
{"data":{"name":"bounds"},"mark":{"type":"rule","color":"#ee1c25"},"encoding":{"y":{"field":"level","type":"quantitative","title":null,"axis":{"values":[0,0.2,0.4,0.6,0.8,1],"format":"~g","labelOverlap":false}}}}]},
{"title":{"text":"ACF of λ₃ₜ"},"width":221,"height":177,"layer":[
{"mark":{"type":"bar","size":1.8,"color":"#2b2b88"},"encoding":{"x":{"field":"lag","type":"quantitative","title":null,"scale":{"domain":[0,250],"padding":0},"axis":{"values":[0,50,100,150,200,250],"labelOverlap":false}},"y":{"field":"i","type":"quantitative","title":null,"scale":{"domain":[-0.1,1]},"axis":{"values":[0,0.2,0.4,0.6,0.8,1],"format":"~g","labelOverlap":false}}}},
{"data":{"name":"zero"},"mark":{"type":"rule","color":"#2b2b88"},"encoding":{"y":{"field":"level","type":"quantitative","title":null,"axis":{"values":[0,0.2,0.4,0.6,0.8,1],"format":"~g","labelOverlap":false}}}},
{"data":{"name":"bounds"},"mark":{"type":"rule","color":"#ee1c25"},"encoding":{"y":{"field":"level","type":"quantitative","title":null,"axis":{"values":[0,0.2,0.4,0.6,0.8,1],"format":"~g","labelOverlap":false}}}}]},
{"title":{"text":"ACF of log(λ₃ₜ)"},"width":221,"height":177,"layer":[
{"mark":{"type":"bar","size":1.8,"color":"#2b2b88"},"encoding":{"x":{"field":"lag","type":"quantitative","title":null,"scale":{"domain":[0,250],"padding":0},"axis":{"values":[0,50,100,150,200,250],"labelOverlap":false}},"y":{"field":"j","type":"quantitative","title":null,"scale":{"domain":[-0.1,1]},"axis":{"values":[0,0.2,0.4,0.6,0.8,1],"format":"~g","labelOverlap":false}}}},
{"data":{"name":"zero"},"mark":{"type":"rule","color":"#2b2b88"},"encoding":{"y":{"field":"level","type":"quantitative","title":null,"axis":{"values":[0,0.2,0.4,0.6,0.8,1],"format":"~g","labelOverlap":false}}}},
{"data":{"name":"bounds"},"mark":{"type":"rule","color":"#ee1c25"},"encoding":{"y":{"field":"level","type":"quantitative","title":null,"axis":{"values":[0,0.2,0.4,0.6,0.8,1],"format":"~g","labelOverlap":false}}}}]},
{"title":{"text":"ACF of √λ₃ₜ","font":"DejaVu Serif","fontWeight":"normal","fontSize":16},"width":221,"height":177,"layer":[
{"mark":{"type":"bar","size":1.8,"color":"#2b2b88"},"encoding":{"x":{"field":"lag","type":"quantitative","title":null,"scale":{"domain":[0,250],"padding":0},"axis":{"values":[0,50,100,150,200,250],"labelOverlap":false}},"y":{"field":"k","type":"quantitative","title":null,"scale":{"domain":[-0.1,1]},"axis":{"values":[0,0.2,0.4,0.6,0.8,1],"format":"~g","labelOverlap":false}}}},
{"data":{"name":"zero"},"mark":{"type":"rule","color":"#2b2b88"},"encoding":{"y":{"field":"level","type":"quantitative","title":null,"axis":{"values":[0,0.2,0.4,0.6,0.8,1],"format":"~g","labelOverlap":false}}}},
{"data":{"name":"bounds"},"mark":{"type":"rule","color":"#ee1c25"},"encoding":{"y":{"field":"level","type":"quantitative","title":null,"axis":{"values":[0,0.2,0.4,0.6,0.8,1],"format":"~g","labelOverlap":false}}}}]},
{"title":{"text":"ACF of BoxCox(λ₃ₜ)"},"width":221,"height":177,"layer":[
{"mark":{"type":"bar","size":1.8,"color":"#2b2b88"},"encoding":{"x":{"field":"lag","type":"quantitative","title":null,"scale":{"domain":[0,250],"padding":0},"axis":{"values":[0,50,100,150,200,250],"labelOverlap":false}},"y":{"field":"l","type":"quantitative","title":null,"scale":{"domain":[-0.1,1]},"axis":{"values":[0,0.2,0.4,0.6,0.8,1],"format":"~g","labelOverlap":false}}}},
{"data":{"name":"zero"},"mark":{"type":"rule","color":"#2b2b88"},"encoding":{"y":{"field":"level","type":"quantitative","title":null,"axis":{"values":[0,0.2,0.4,0.6,0.8,1],"format":"~g","labelOverlap":false}}}},
{"data":{"name":"bounds"},"mark":{"type":"rule","color":"#ee1c25"},"encoding":{"y":{"field":"level","type":"quantitative","title":null,"axis":{"values":[0,0.2,0.4,0.6,0.8,1],"format":"~g","labelOverlap":false}}}}]}
],
"config":{
"view":{"stroke":"#808080","strokeWidth":1},
"axis":{"grid":true,"gridColor":"#e3e3e3","gridWidth":1,"domain":false,"ticks":false,"labelFont":"DejaVu Sans","labelFontSize":11.5,"labelColor":"#262626","labelFlush":false,"labelOverlap":false},
"axisX":{"labelPadding":3},
"axisY":{"labelPadding":9},
"title":{"font":"DejaVu Sans","fontSize":13,"fontWeight":"bold","color":"#000000","offset":5,"anchor":"middle"}
}
}
